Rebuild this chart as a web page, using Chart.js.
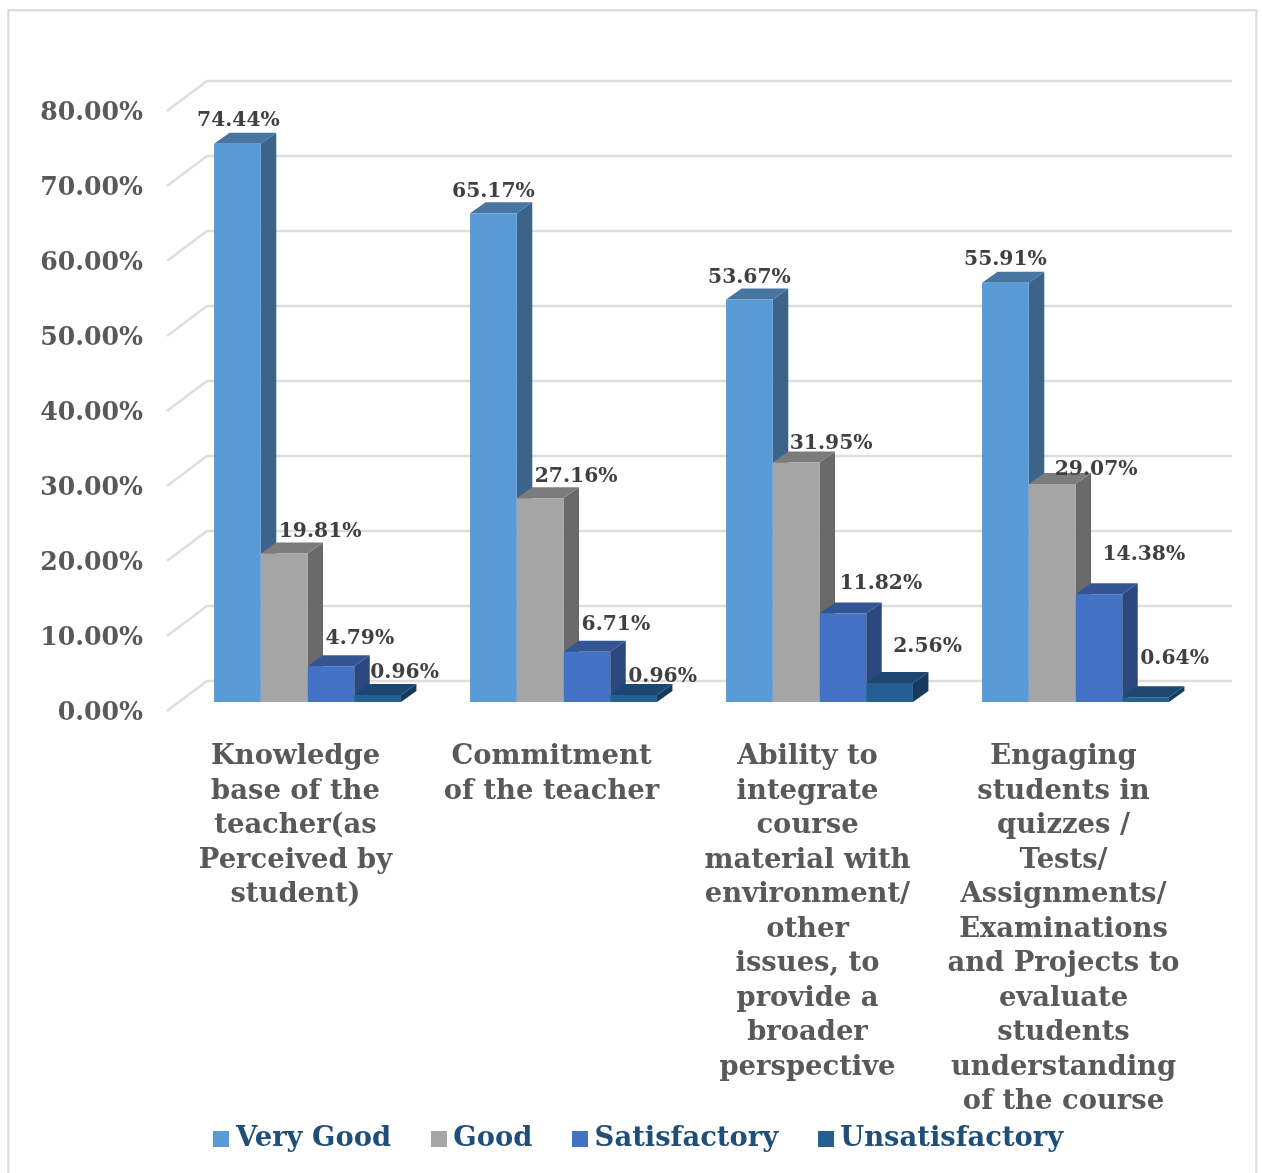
<!DOCTYPE html>
<html lang="en">
<head>
    <meta charset="UTF-8">
    <title>Feedback Chart</title>
    <script src="https://cdn.jsdelivr.net/npm/chart.js"></script>
    <style>
        html, body { margin: 0; padding: 0; background: #fff; overflow: hidden; }
        canvas { display: block; }
    </style>
</head>
<body>
<canvas id="feedbackChart" width="1262" height="1173"></canvas>
<script>
// Data
var categories = [
    ['Knowledge', 'base of the', 'teacher(as', 'Perceived by', 'student)'],
    ['Commitment', 'of the teacher'],
    ['Ability to', 'integrate', 'course', 'material with', 'environment/', 'other', 'issues, to', 'provide a', 'broader', 'perspective'],
    ['Engaging', 'students in', 'quizzes /', 'Tests/', 'Assignments/', 'Examinations', 'and Projects to', 'evaluate', 'students', 'understanding', 'of the course']
];
var veryGood = [74.44, 65.17, 53.67, 55.91];
var good = [19.81, 27.16, 31.95, 29.07];
var satisfactory = [4.79, 6.71, 11.82, 14.38];
var unsatisfactory = [0.96, 0.96, 2.56, 0.64];

// Front, top and side colours of the fake 3D bars
var frontColors = ['#5B9BD5', '#A5A5A5', '#4472C4', '#255E91'];
var topColors = ['#4675A1', '#7C7C7C', '#335594', '#1C4770'];
var sideColors = ['#3A6489', '#6A6A6A', '#2A477F', '#163A5C'];

// Label nudges from the bar centre / bar top, per series then category
var labelDx = [[1, 0, 0, 0], [36, 36, 35, 44], [29, 29, 38, 45], [27, 29, 38, 29]];
var labelDy = [[-23, -22, -22, -23], [-22, -22, -19, -14], [-27, -27, -30, -40], [-22, -18, -36, -39]];

var serifFont = '"DejaVu Serif", serif';
var depthX = 15.5, depthY = 11;
var legendGap = 46.5;

// Legend swatch as a small canvas, so it can sit closer to its text
function swatch(color) {
    var c = document.createElement('canvas');
    c.width = 16;
    c.height = 16;
    var g = c.getContext('2d');
    g.fillStyle = color;
    g.fillRect(0, 0, 16, 16);
    return c;
}

var bars3d = {
    id: 'bars3d',
    afterLayout: function (chart) {
        // the legend is centred under the whole frame, not under the plot
        chart.legend.left += 33.5;
        chart.legend.right += 33.5;
        chart.legend.top = 1138 - legendGap - 13;
    },
    beforeDraw: function (chart) {
        var ctx = chart.ctx;
        ctx.save();
        ctx.strokeStyle = '#D9D9D9';
        ctx.lineWidth = 2;
        ctx.strokeRect(8.3, 10.3, 1248, 1300);
        ctx.restore();
    },
    beforeDatasetsDraw: function (chart) {
        var ctx = chart.ctx;
        var yScale = chart.scales.y;
        ctx.save();

        // walls: diagonal on the left, then the line along the back
        ctx.strokeStyle = '#DEDEDE';
        ctx.lineWidth = 2.5;
        yScale.ticks.forEach(function (tick) {
            var y = yScale.getPixelForValue(tick.value);
            ctx.beginPath();
            ctx.moveTo(167, y + 9);
            ctx.lineTo(207, y - 21);
            ctx.lineTo(1232, y - 21);
            ctx.stroke();
        });

        // top and side of each bar, the fronts are drawn over them by Chart.js
        chart.data.datasets.forEach(function (ds, i) {
            chart.getDatasetMeta(i).data.forEach(function (bar) {
                var left = bar.x - bar.width / 2;
                var right = bar.x + bar.width / 2;
                ctx.fillStyle = sideColors[i];
                ctx.beginPath();
                ctx.moveTo(right, bar.y);
                ctx.lineTo(right + depthX, bar.y - depthY);
                ctx.lineTo(right + depthX, bar.base - depthY);
                ctx.lineTo(right, bar.base);
                ctx.closePath();
                ctx.fill();
                ctx.fillStyle = topColors[i];
                ctx.beginPath();
                ctx.moveTo(left, bar.y);
                ctx.lineTo(left + depthX, bar.y - depthY);
                ctx.lineTo(right + depthX, bar.y - depthY);
                ctx.lineTo(right, bar.y);
                ctx.closePath();
                ctx.fill();
            });
        });
        ctx.restore();
    },
    afterDatasetsDraw: function (chart) {
        var ctx = chart.ctx;
        ctx.save();
        ctx.fillStyle = '#404040';
        ctx.font = 'bold 20.3px ' + serifFont;
        ctx.textAlign = 'center';
        ctx.textBaseline = 'middle';
        chart.data.datasets.forEach(function (ds, i) {
            chart.getDatasetMeta(i).data.forEach(function (bar, j) {
                ctx.fillText(ds.data[j].toFixed(2) + '%', bar.x + labelDx[i][j], bar.y + labelDy[i][j]);
            });
        });
        ctx.restore();
    }
};

var ctx = document.getElementById('feedbackChart').getContext('2d');
var feedbackChart = new Chart(ctx, {
    type: 'bar',
    data: {
        labels: categories,
        datasets: [
            { label: 'Very Good', data: veryGood, backgroundColor: frontColors[0], pointStyle: swatch(frontColors[0]) },
            { label: 'Good', data: good, backgroundColor: frontColors[1], pointStyle: swatch(frontColors[1]) },
            { label: 'Satisfactory', data: satisfactory, backgroundColor: frontColors[2], pointStyle: swatch(frontColors[2]) },
            { label: 'Unsatisfactory', data: unsatisfactory, backgroundColor: frontColors[3], pointStyle: swatch(frontColors[3]) }
        ]
    },
    options: {
        responsive: false,
        animation: false,
        categoryPercentage: 0.73,
        barPercentage: 1,
        // negative bottom: the legend takes no room, it is laid over the tall x axis
        layout: { padding: { left: 13, right: 58.5, top: 102, bottom: -84 } },
        scales: {
            x: {
                grid: { display: false },
                border: { display: false },
                ticks: {
                    color: '#595959',
                    font: { family: serifFont, size: 27.4, weight: 'bold', lineHeight: '34.5px' },
                    padding: 30,
                    labelOffset: -12,
                    maxRotation: 0,
                    minRotation: 0,
                    autoSkip: false
                },
                afterFit: function (scale) { scale.height = 471; }
            },
            y: {
                min: 0,
                max: 80,
                grid: { display: false },
                border: { display: false },
                ticks: {
                    stepSize: 10,
                    color: '#595959',
                    font: { family: serifFont, size: 25.2, weight: 'bold' },
                    padding: 28.5,
                    labelOffset: 11,
                    callback: function (value) { return value.toFixed(2) + '%'; }
                },
                afterFit: function (scale) { scale.width = 166.5; }
            }
        },
        plugins: {
            legend: {
                position: 'bottom',
                labels: {
                    usePointStyle: true,
                    pointStyleWidth: 2,
                    boxHeight: 16,
                    padding: legendGap,
                    color: '#1F4E79',
                    font: { family: serifFont, size: 27.4, weight: 'bold' }
                }
            },
            tooltip: { enabled: false }
        }
    },
    plugins: [bars3d]
});
</script>
</body>
</html>
